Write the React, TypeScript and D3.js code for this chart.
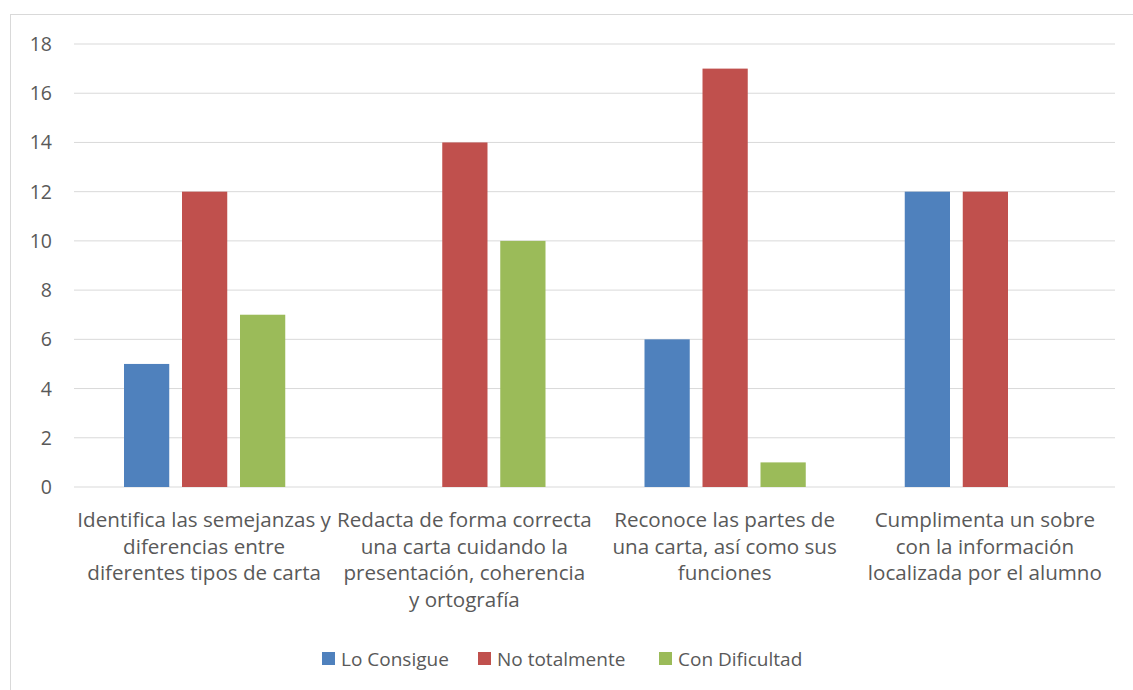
import React from 'react';
import * as d3 from 'd3';

const categories = [
  ['Identifica las semejanzas y', 'diferencias entre', 'diferentes tipos de carta'],
  ['Redacta de forma correcta', 'una carta cuidando la', 'presentación, coherencia', 'y ortografía'],
  ['Reconoce las partes de', 'una carta, así como sus', 'funciones'],
  ['Cumplimenta un sobre', 'con la información', 'localizada por el alumno'],
];
const seriesNames = ['Lo Consigue', 'No totalmente', 'Con Dificultad'];
const loConsigue = [5, 0, 6, 12];
const noTotalmente = [12, 14, 17, 12];
const conDificultad = [7, 10, 1, 0];
const yTicks = [0, 2, 4, 6, 8, 10, 12, 14, 16, 18];

const colors = ['#4F81BD', '#C0504D', '#9BBB59'];
const W = 1133;
const H = 690;
const font = "'Open Sans', 'Noto Sans', sans-serif";
const textColor = '#595959';

const App: React.FC = () => {
  const values = [loConsigue, noTotalmente, conDificultad];
  const left = 74;
  const right = 1115;
  const top = 44;
  const bottom = 487;

  const x0 = d3.scaleBand<number>().domain(d3.range(categories.length)).range([left, right]);
  const x1 = d3
    .scaleBand<number>()
    .domain(d3.range(seriesNames.length))
    .range([50, x0.bandwidth() - 49])
    .paddingInner(0.22);
  const y = d3.scaleLinear().domain([0, 18]).range([bottom, top]);

  const legendX = [322, 478, 659];

  return (
    <svg
      width={W}
      height={H}
      style={{ position: 'absolute', left: 0, top: 0, background: '#fff' }}
      fontFamily={font}
    >
      <rect x={10.5} y={14.5} width={W} height={H} fill="#fff" stroke="#D9D9D9" strokeWidth={1} />
      {yTicks.map(t => (
        <g key={t}>
          <line x1={left} x2={right} y1={y(t)} y2={y(t)} stroke="#D9D9D9" strokeWidth={1} />
          <text x={52} y={y(t)} dy="0.36em" textAnchor="end" fontSize={19.5} fill={textColor}>
            {t}
          </text>
        </g>
      ))}
      {categories.map((_, ci) => (
        <g key={ci} transform={`translate(${x0(ci)},0)`}>
          {values.map((s, si) =>
            s[ci] > 0 ? (
              <rect
                key={si}
                x={x1(si)}
                width={x1.bandwidth()}
                y={y(s[ci])}
                height={y(0) - y(s[ci])}
                fill={colors[si]}
              />
            ) : null
          )}
        </g>
      ))}
      {categories.map((lines, ci) => (
        <text
          key={ci}
          x={(x0(ci) as number) + x0.bandwidth() / 2}
          textAnchor="middle"
          fontSize={20.6}
          fill={textColor}
        >
          {lines.map((l, li) => (
            <tspan key={li} x={(x0(ci) as number) + x0.bandwidth() / 2} y={527 + li * 26.5}>
              {l}
            </tspan>
          ))}
        </text>
      ))}
      {seriesNames.map((n, i) => (
        <g key={n} transform={`translate(${legendX[i]},0)`}>
          <rect x={0} y={652} width={13} height={13} fill={colors[i]} />
          <text x={19} y={666} fontSize={19} fill={textColor}>
            {n}
          </text>
        </g>
      ))}
    </svg>
  );
};

export default App;
